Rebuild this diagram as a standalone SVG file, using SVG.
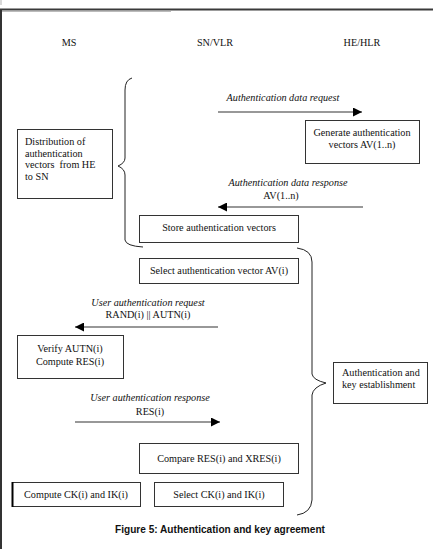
<svg xmlns="http://www.w3.org/2000/svg" width="433" height="549" viewBox="0 0 433 549">
<defs>
<marker id="ah" viewBox="0 0 10 10" refX="10" refY="5" markerWidth="9" markerHeight="9" markerUnits="userSpaceOnUse" orient="auto">
<path d="M0,0 L10,5 L0,10 Z" fill="#000"/>
</marker>
</defs>
<style>
.t{font-family:"Liberation Serif","Times New Roman",serif;font-size:10.2px;fill:#111}
.i{font-style:italic}
.m{text-anchor:middle}
.b{fill:#fff;stroke:#333;stroke-width:1}
.c{fill:none;stroke:#222;stroke-width:1}
.a{stroke:#333;stroke-width:1.2;fill:none;marker-end:url(#ah)}
.cap{font-family:"Liberation Sans",Arial,sans-serif;font-weight:bold;font-size:10.1px;fill:#111;text-anchor:middle}
</style>
<rect width="433" height="549" fill="#fff"/>
<line x1="0" y1="9.5" x2="433" y2="9.5" stroke="#3a3a3a" stroke-width="2"/>
<line x1="0" y1="11.5" x2="171" y2="11.5" stroke="#bbb" stroke-width="1"/>
<line x1="1" y1="10" x2="1" y2="549" stroke="#333" stroke-width="2"/>
<line x1="1" y1="0" x2="1" y2="5" stroke="#ccc" stroke-width="1.5"/>

<g id="lanes">
<text class="t m" x="69" y="46">MS</text>
<text class="t m" x="215" y="46">SN/VLR</text>
<text class="t m" x="362" y="46">HE/HLR</text>
</g>

<g id="connectors">
<path class="c" d="M132,78 Q125,80 125,90 L125,158 Q125,163 118,166 Q125,169 125,175 L125,240 Q126,246 143,247"/>
<path class="c" d="M297,248 Q312,250 312,262 L312,374 Q313,380 326,383 Q313,387 312,395 L312,500 Q311,513 297,515"/>
<line class="a" x1="218" y1="112" x2="362" y2="112"/>
<line class="a" x1="363" y1="207" x2="218" y2="207"/>
<line class="a" x1="218" y1="327" x2="75" y2="327"/>
<line class="a" x1="75" y1="422" x2="220" y2="422"/>
<text class="t i m" x="283" y="101">Authentication data request</text>
<text class="t i m" x="288" y="186">Authentication data response</text>
<text class="t m" x="281" y="199">AV(1..n)</text>
<text class="t i m" x="148" y="306">User authentication request</text>
<text class="t m" x="148" y="318">RAND(i) || AUTN(i)</text>
<text class="t i m" x="150" y="401">User authentication response</text>
<text class="t m" x="150" y="415">RES(i)</text>
</g>

<g id="generate">
<rect class="b" x="305.5" y="120.5" width="114" height="43"/>
<text class="t m" x="362" y="136">Generate authentication</text>
<text class="t m" x="362" y="148">vectors AV(1..n)</text>
</g>

<g id="distribution">
<rect class="b" x="17.5" y="129.5" width="95" height="69"/>
<text class="t" x="25" y="145">Distribution of</text>
<text class="t" x="25" y="156.5">authentication</text>
<text class="t" x="25" y="168" style="white-space:pre">vectors  from HE</text>
<text class="t" x="25" y="179.5">to SN</text>
</g>

<g id="store">
<rect class="b" x="139.5" y="215.5" width="159" height="27"/>
<text class="t m" x="219" y="231">Store authentication vectors</text>
</g>

<g id="select-av">
<rect class="b" x="139.5" y="258.5" width="159" height="25"/>
<text class="t m" x="219" y="274">Select authentication vector AV(i)</text>
</g>

<g id="verify">
<rect class="b" x="17.5" y="335.5" width="106" height="43"/>
<text class="t m" x="70" y="352">Verify AUTN(i)</text>
<text class="t m" x="70" y="365">Compute RES(i)</text>
</g>

<g id="auth-key">
<rect class="b" x="333.5" y="362.5" width="94" height="41"/>
<text class="t" x="342" y="376">Authentication and</text>
<text class="t" x="342" y="388">key establishment</text>
</g>

<g id="compare">
<rect class="b" x="139.5" y="443.5" width="159" height="30"/>
<text class="t m" x="219" y="462">Compare RES(i) and XRES(i)</text>
</g>

<g id="compute-ck">
<rect class="b" x="12.5" y="482.5" width="128" height="24"/>
<line x1="12.5" y1="482" x2="12.5" y2="507" stroke="#000" stroke-width="2"/>
<text class="t m" x="76" y="498">Compute CK(i) and IK(i)</text>
</g>

<g id="select-ck">
<rect class="b" x="154.5" y="482.5" width="129" height="24"/>
<text class="t m" x="219" y="498">Select CK(i) and IK(i)</text>
</g>

<text class="cap" x="220" y="533">Figure 5: Authentication and key agreement</text>
</svg>
